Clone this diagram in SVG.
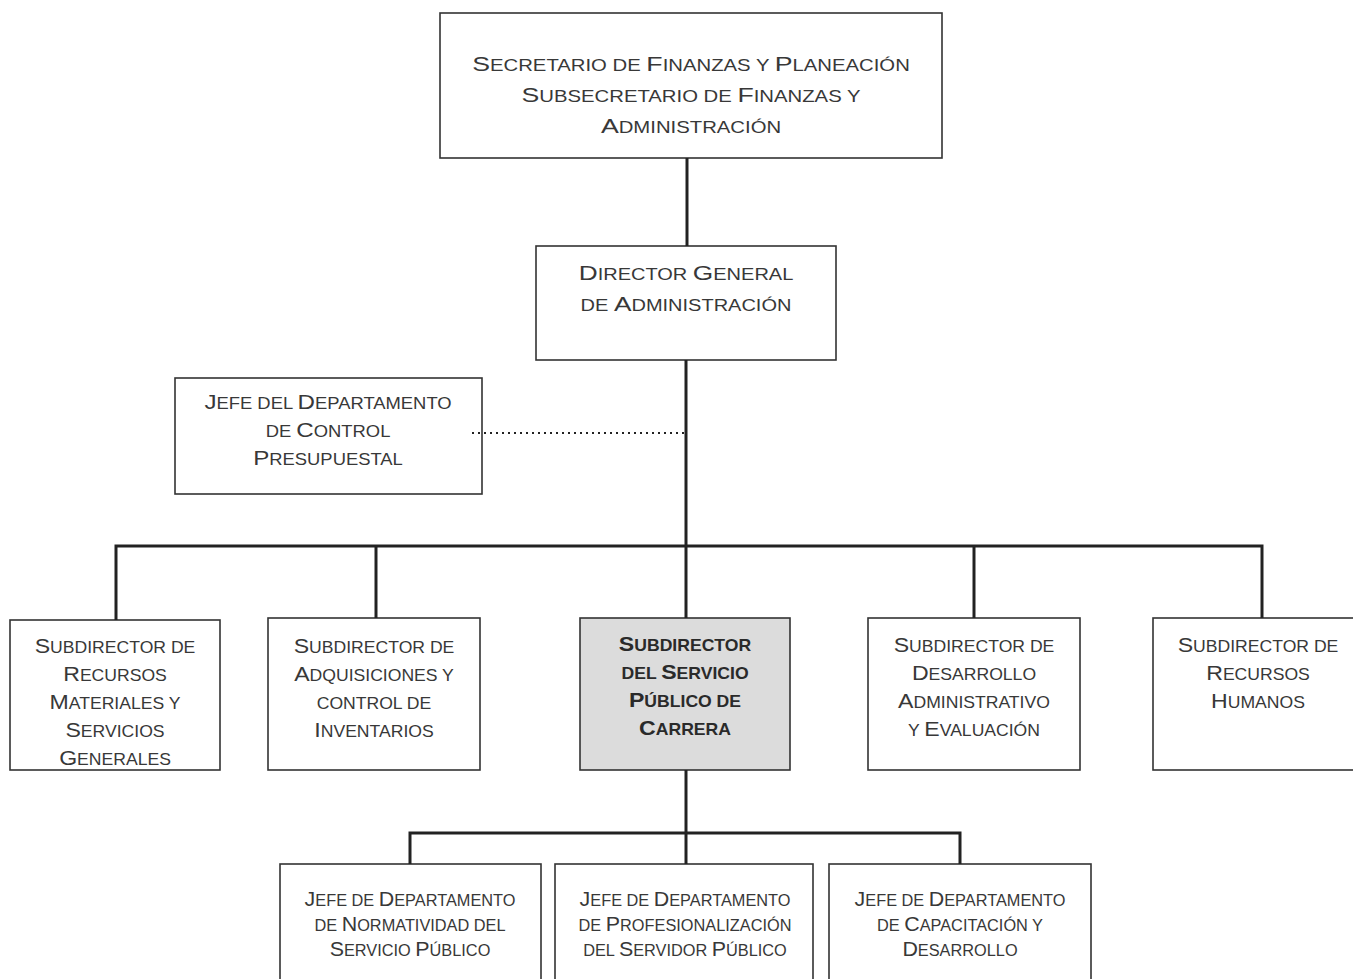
<svg xmlns="http://www.w3.org/2000/svg" width="1353" height="979" viewBox="0 0 1353 979">
<style>
.box{fill:#fff;stroke:#333;stroke-width:1.6}
.gray{fill:#dcdcdc;stroke:#333;stroke-width:1.6}
.t{font-family:"Liberation Sans",Arial,sans-serif;font-size:16px;fill:#383838;text-anchor:middle}
.c{font-size:21px}
.b{font-weight:bold;fill:#2a2a2a}
.ln{stroke:#222;stroke-width:3;fill:none}
.dot{stroke:#222;stroke-width:2;stroke-dasharray:2 4;fill:none}
</style>
<rect width="1353" height="979" fill="#fff"/>
<g id="secretario">
<rect class="box" x="440" y="13" width="502" height="145"/>
<g transform="translate(691,0) scale(1.27,1)">
<text class="t" x="0" y="71"><tspan class="c">S</tspan>ECRETARIO DE <tspan class="c">F</tspan>INANZAS Y <tspan class="c">P</tspan>LANEACIÓN</text>
<text class="t" x="0" y="102"><tspan class="c">S</tspan>UBSECRETARIO DE <tspan class="c">F</tspan>INANZAS Y</text>
<text class="t" x="0" y="133"><tspan class="c">A</tspan>DMINISTRACIÓN</text>
</g>
</g>
<g id="director">
<rect class="box" x="536" y="246" width="300" height="114"/>
<g transform="translate(686,0) scale(1.25,1)">
<text class="t" x="0" y="280"><tspan class="c">D</tspan>IRECTOR <tspan class="c">G</tspan>ENERAL</text>
<text class="t" x="0" y="311">DE <tspan class="c">A</tspan>DMINISTRACIÓN</text>
</g>
</g>
<g id="jefe-control">
<rect class="box" x="175" y="378" width="307" height="116"/>
<g transform="translate(328,0) scale(1.15,1)">
<text class="t" x="0" y="409"><tspan class="c">J</tspan>EFE DEL <tspan class="c">D</tspan>EPARTAMENTO</text>
<text class="t" x="0" y="437">DE <tspan class="c">C</tspan>ONTROL</text>
<text class="t" x="0" y="465"><tspan class="c">P</tspan>RESUPUESTAL</text>
</g>
</g>
<g id="sub-recursos-materiales">
<rect class="box" x="10" y="620" width="210" height="150"/>
<g transform="translate(115,0) scale(1.1,1)">
<text class="t" x="0" y="653"><tspan class="c">S</tspan>UBDIRECTOR DE</text>
<text class="t" x="0" y="681"><tspan class="c">R</tspan>ECURSOS</text>
<text class="t" x="0" y="709"><tspan class="c">M</tspan>ATERIALES Y</text>
<text class="t" x="0" y="737"><tspan class="c">S</tspan>ERVICIOS</text>
<text class="t" x="0" y="765"><tspan class="c">G</tspan>ENERALES</text>
</g>
</g>
<g id="sub-adquisiciones">
<rect class="box" x="268" y="618" width="212" height="152"/>
<g transform="translate(374,0) scale(1.1,1)">
<text class="t" x="0" y="653"><tspan class="c">S</tspan>UBDIRECTOR DE</text>
<text class="t" x="0" y="681"><tspan class="c">A</tspan>DQUISICIONES Y</text>
<text class="t" x="0" y="709">CONTROL DE</text>
<text class="t" x="0" y="737"><tspan class="c">I</tspan>NVENTARIOS</text>
</g>
</g>
<g id="sub-servicio-publico">
<rect class="gray" x="580" y="618" width="210" height="152"/>
<g transform="translate(685,0) scale(1.1,1)">
<text class="t b" x="0" y="651"><tspan class="c">S</tspan>UBDIRECTOR</text>
<text class="t b" x="0" y="679">DEL <tspan class="c">S</tspan>ERVICIO</text>
<text class="t b" x="0" y="707"><tspan class="c">P</tspan>ÚBLICO DE</text>
<text class="t b" x="0" y="735"><tspan class="c">C</tspan>ARRERA</text>
</g>
</g>
<g id="sub-desarrollo">
<rect class="box" x="868" y="618" width="212" height="152"/>
<g transform="translate(974,0) scale(1.1,1)">
<text class="t" x="0" y="652"><tspan class="c">S</tspan>UBDIRECTOR DE</text>
<text class="t" x="0" y="680"><tspan class="c">D</tspan>ESARROLLO</text>
<text class="t" x="0" y="708"><tspan class="c">A</tspan>DMINISTRATIVO</text>
<text class="t" x="0" y="736">Y <tspan class="c">E</tspan>VALUACIÓN</text>
</g>
</g>
<g id="sub-recursos-humanos">
<rect class="box" x="1153" y="618" width="210" height="152"/>
<g transform="translate(1258,0) scale(1.1,1)">
<text class="t" x="0" y="652"><tspan class="c">S</tspan>UBDIRECTOR  DE</text>
<text class="t" x="0" y="680"><tspan class="c">R</tspan>ECURSOS</text>
<text class="t" x="0" y="708"><tspan class="c">H</tspan>UMANOS</text>
</g>
</g>
<g id="jefe-normatividad">
<rect class="box" x="280" y="864" width="261" height="130"/>
<g transform="translate(410,0) scale(1.02,1)">
<text class="t" x="0" y="906"><tspan class="c">J</tspan>EFE DE <tspan class="c">D</tspan>EPARTAMENTO</text>
<text class="t" x="0" y="931">DE <tspan class="c">N</tspan>ORMATIVIDAD DEL</text>
<text class="t" x="0" y="956"><tspan class="c">S</tspan>ERVICIO <tspan class="c">P</tspan>ÚBLICO</text>
</g>
</g>
<g id="jefe-profesionalizacion">
<rect class="box" x="555" y="864" width="258" height="130"/>
<g transform="translate(685,0) scale(1.02,1)">
<text class="t" x="0" y="906"><tspan class="c">J</tspan>EFE DE <tspan class="c">D</tspan>EPARTAMENTO</text>
<text class="t" x="0" y="931">DE <tspan class="c">P</tspan>ROFESIONALIZACIÓN</text>
<text class="t" x="0" y="956">DEL <tspan class="c">S</tspan>ERVIDOR <tspan class="c">P</tspan>ÚBLICO</text>
</g>
</g>
<g id="jefe-capacitacion">
<rect class="box" x="829" y="864" width="262" height="130"/>
<g transform="translate(960,0) scale(1.02,1)">
<text class="t" x="0" y="906"><tspan class="c">J</tspan>EFE DE <tspan class="c">D</tspan>EPARTAMENTO</text>
<text class="t" x="0" y="931">DE <tspan class="c">C</tspan>APACITACIÓN Y</text>
<text class="t" x="0" y="956"><tspan class="c">D</tspan>ESARROLLO</text>
</g>
</g>
<g id="connectors">
<line class="ln" x1="687" y1="158" x2="687" y2="246"/>
<line class="ln" x1="686" y1="360" x2="686" y2="618"/>
<line class="dot" x1="472" y1="433" x2="684" y2="433"/>
<polyline class="ln" points="116,620 116,546 1262,546 1262,618"/>
<line class="ln" x1="376" y1="546" x2="376" y2="618"/>
<line class="ln" x1="974" y1="546" x2="974" y2="618"/>
<line class="ln" x1="686" y1="770" x2="686" y2="864"/>
<polyline class="ln" points="410,864 410,833 960,833 960,864"/>
</g>
</svg>
